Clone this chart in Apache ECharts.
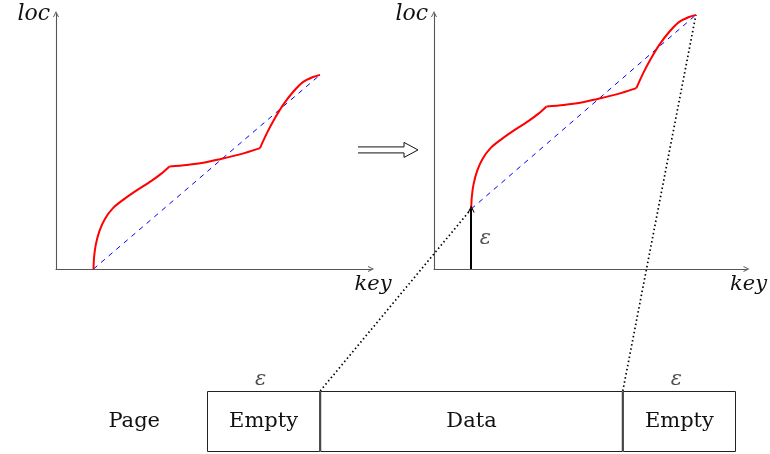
<!DOCTYPE html>
<html><head><meta charset="utf-8">
<script src="https://cdn.jsdelivr.net/npm/echarts@6/dist/echarts.min.js"></script>
<style>html,body{margin:0;padding:0;background:#fff}#c{width:770px;height:454px}</style>
</head><body><div id="c"></div>
<script>
// ---- data ----
const keyMax = 10.5;
const locMax = 8.5;

const leftSeg1 = [[1.25,0],[1.27,0.40],[1.33,0.83],[1.45,1.27],[1.63,1.67],[1.90,2.03],[2.27,2.33],[2.70,2.63],[3.17,2.93],[3.50,3.17],[3.78,3.42]];
const leftSeg2 = [[3.78,3.42],[4.36,3.47],[4.91,3.54],[5.47,3.66],[6.13,3.82],[6.80,4.03]];
const leftSeg3 = [[6.80,4.03],[7.03,4.53],[7.30,5.03],[7.57,5.47],[7.90,5.90],[8.23,6.23],[8.57,6.40],[8.80,6.47]];
const leftLinear = [[1.25,0],[8.80,6.47]];

const rightSeg1 = [[1.25,2],[1.27,2.40],[1.33,2.83],[1.45,3.27],[1.63,3.67],[1.90,4.03],[2.27,4.33],[2.70,4.63],[3.17,4.93],[3.50,5.17],[3.78,5.42]];
const rightSeg2 = [[3.78,5.42],[4.36,5.47],[4.91,5.54],[5.47,5.66],[6.13,5.82],[6.80,6.03]];
const rightSeg3 = [[6.80,6.03],[7.03,6.53],[7.30,7.03],[7.57,7.47],[7.90,7.90],[8.23,8.23],[8.57,8.40],[8.80,8.47]];
const rightLinear = [[1.25,2],[8.80,8.47]];

const epsArrow = [[1.25,0],[1.25,2]];

const rowLabel = ['Page'];
const pageParts = ['Empty','Data','Empty'];
const pageWidths = [21.4, 57.2, 21.4];
const epsText = 'ε';

// ---- styles ----
const arrowPath = 'path://M0,10L5,0L10,10L8.4,10L5,3.2L1.6,10Z';
const serif = 'DejaVu Serif';
const axisColor = '#555';

function keyAxis(gi){
  return {gridIndex:gi, type:'value', min:0, max:keyMax, name:'key', nameLocation:'end', nameGap:2,
    nameTextStyle:{fontFamily:serif, fontStyle:'italic', fontSize:21, color:'#111', align:'center', verticalAlign:'top', padding:[5,0,0,0]},
    axisLine:{show:true, onZero:false, lineStyle:{color:axisColor, width:1.1}, symbol:['none', arrowPath], symbolSize:[8,6]},
    axisTick:{show:false}, axisLabel:{show:false}, splitLine:{show:false}};
}
function locAxis(gi){
  return {gridIndex:gi, type:'value', min:0, max:locMax, name:'loc', nameLocation:'end', nameGap:0,
    nameTextStyle:{fontFamily:serif, fontStyle:'italic', fontSize:22, color:'#111', align:'right', verticalAlign:'middle', padding:[0,6,2,0]},
    axisLine:{show:true, onZero:false, lineStyle:{color:axisColor, width:1.1}, symbol:['none', arrowPath], symbolSize:[8,6]},
    axisTick:{show:false}, axisLabel:{show:false}, splitLine:{show:false}};
}
function redLine(gi, data){
  return {type:'line', xAxisIndex:gi, yAxisIndex:gi, data:data, smooth:0.3, showSymbol:false, z:4,
    lineStyle:{color:'#ff0000', width:2}, silent:true};
}
function blueLine(gi, data){
  return {type:'line', xAxisIndex:gi, yAxisIndex:gi, data:data, showSymbol:false, z:3,
    lineStyle:{color:'#0000ff', width:1, type:[5,5]}, silent:true};
}

const pageTotal = pageWidths.reduce((a,b)=>a+b,0);
const barSeries = pageParts.map((p,i)=>({
  type:'bar', name:p+i, xAxisIndex:2, yAxisIndex:2, stack:'page', barWidth:'100%',
  data:[{value:pageWidths[i], name:p}],
  itemStyle:{color:'#fff', borderColor:'#222', borderWidth:1},
  label:{show:true, position:'inside', formatter:p, fontFamily:serif, fontSize:21, color:'#111'},
  silent:true
}));

const option = {
  animation:false,
  backgroundColor:'#fff',
  grid:[
    {left:56, top:14, width:315, height:255},
    {left:434, top:14, width:315, height:255},
    {left:207, top:391, width:529, height:61}
  ],
  xAxis:[keyAxis(0), keyAxis(1),
    {gridIndex:2, type:'value', min:0, max:pageTotal, show:false}],
  yAxis:[locAxis(0), locAxis(1),
    {gridIndex:2, type:'category', data:rowLabel, axisLine:{show:false}, axisTick:{show:false}, splitLine:{show:false},
     axisLabel:{margin:47, fontFamily:serif, fontSize:21, color:'#111'}}],
  series:[
    blueLine(0, leftLinear), redLine(0, leftSeg1), redLine(0, leftSeg2), redLine(0, leftSeg3),
    blueLine(1, rightLinear), redLine(1, rightSeg1), redLine(1, rightSeg2), redLine(1, rightSeg3),
    {type:'lines', coordinateSystem:'cartesian2d', xAxisIndex:1, yAxisIndex:1, z:5,
     data:[{coords:epsArrow}], symbol:['none', arrowPath], symbolSize:[9,7],
     lineStyle:{color:'#000', width:2, opacity:1}, silent:true},
    {type:'scatter', xAxisIndex:1, yAxisIndex:1, data:[[epsArrow[0][0], (epsArrow[0][1]+epsArrow[1][1])/2]],
     symbolSize:1, itemStyle:{color:'rgba(0,0,0,0)'},
     label:{show:true, position:'right', distance:8, formatter:epsText, fontFamily:serif, fontStyle:'italic', fontSize:21, color:'#222'}, silent:true},
    ...barSeries,
    {type:'scatter', xAxisIndex:2, yAxisIndex:2,
     data:[[pageWidths[0]/2, rowLabel[0]], [pageTotal - pageWidths[2]/2, rowLabel[0]]],
     symbolSize:1, itemStyle:{color:'rgba(0,0,0,0)'}, z:5,
     label:{show:true, position:'inside', offset:[-3,-42], formatter:epsText, fontFamily:serif, fontStyle:'italic', fontSize:21, color:'#222'}, silent:true}
  ]
};

const chart = echarts.init(document.getElementById('c'), null, {renderer:'canvas'});
chart.setOption(option);

// connectors computed through the library's scales
const pStart = chart.convertToPixel({gridIndex:1}, rightLinear[0]);
const pEnd = chart.convertToPixel({gridIndex:1}, rightLinear[1]);
const boxRect = chart.getModel().getComponent('grid', 2).coordinateSystem.getRect();
const d1x = chart.convertToPixel({xAxisIndex:2}, pageWidths[0]);
const d2x = chart.convertToPixel({xAxisIndex:2}, pageWidths[0] + pageWidths[1]);
const dotStyle = {stroke:'#000', lineWidth:1.7, lineDash:[1.5,2.7], fill:null};

// double arrow between panels
const lg = chart.getModel().getComponent('grid', 0).coordinateSystem.getRect();
const ay = lg.y + lg.height * 0.533;
const ax0 = lg.x + lg.width - 13;
const ax1 = ax0 + 46;
const tip = ax1 + 14;

chart.setOption({graphic:[
  {type:'line', shape:{x1:d1x, y1:boxRect.y, x2:pStart[0], y2:pStart[1]}, style:dotStyle, z:2},
  {type:'line', shape:{x1:d2x, y1:boxRect.y, x2:pEnd[0], y2:pEnd[1]}, style:dotStyle, z:2},
  {type:'polyline', shape:{points:[[ax0,ay-3],[ax1,ay-3],[ax1,ay-7.5],[tip,ay],[ax1,ay+7.5],[ax1,ay+3],[ax0,ay+3]]},
   style:{fill:'#fff', stroke:'#111', lineWidth:1}, z:2}
]});
</script>
</body></html>
